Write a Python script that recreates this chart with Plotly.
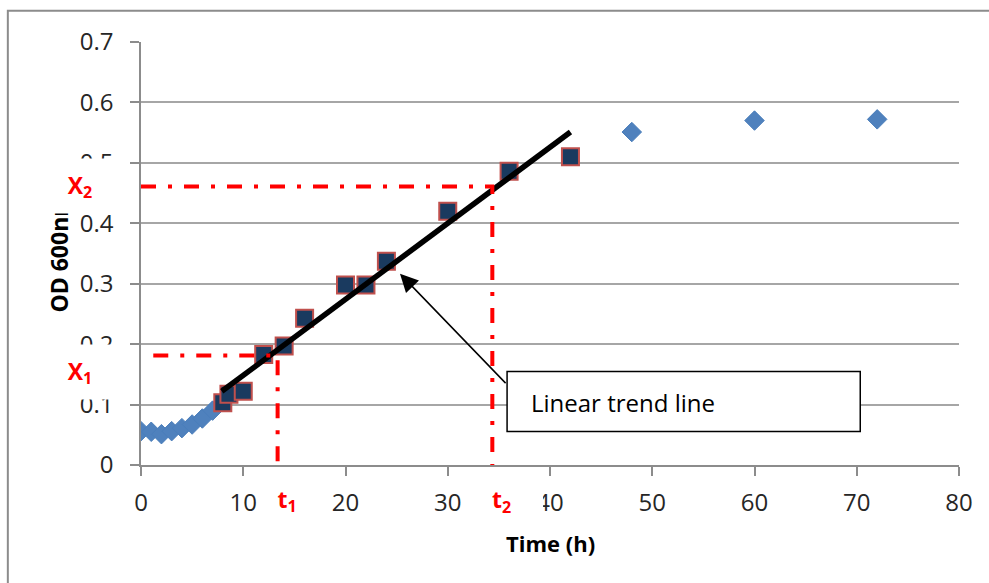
import plotly.graph_objects as go

# ---------------- data ----------------
lag_time = [0, 1, 2, 3, 4, 5, 6, 7]
lag_od = [0.056, 0.055, 0.051, 0.056, 0.061, 0.067, 0.077, 0.090]

exp_time = [8, 8.6, 10, 12, 14, 16, 20, 22, 24, 30, 36, 42]
exp_od = [0.103, 0.117, 0.122, 0.183, 0.197, 0.243, 0.298, 0.298, 0.337, 0.420, 0.486, 0.510]

stat_time = [48, 60, 72]
stat_od = [0.551, 0.570, 0.572]

trend_time = [7.9, 42]
trend_od = [0.122, 0.551]

t1, x1_od, x1_start = 13.36, 0.181, 1.2
t2, x2_od, x2_start = 34.36, 0.461, 0.0

x_ticks = [0, 10, 20, 30, 40, 50, 60, 70, 80]
y_ticks = [0, 0.1, 0.2, 0.3, 0.4, 0.5, 0.6, 0.7]

FONT = "Open Sans"
RED = "#ff0000"
DASH = "15px,12px,4px,12px"

fig = go.Figure()

diamond_style = dict(symbol="diamond", size=15, color="#4f81bd",
                     line=dict(color="#4a7ebb", width=1))
fig.add_trace(go.Scatter(x=lag_time, y=lag_od, mode="markers", marker=diamond_style))
fig.add_trace(go.Scatter(x=stat_time, y=stat_od, mode="markers", marker=diamond_style))
fig.add_trace(go.Scatter(x=exp_time, y=exp_od, mode="markers",
                         marker=dict(symbol="square", size=17, color="#1a3a5f",
                                     line=dict(color="#c0504d", width=2))))
fig.add_trace(go.Scatter(x=trend_time, y=trend_od, mode="lines",
                         line=dict(color="black", width=5.5)))
fig.add_trace(go.Scatter(x=[x2_start, t2, t2], y=[x2_od, x2_od, 0], mode="lines",
                         line=dict(color=RED, width=4, dash=DASH)))
fig.add_trace(go.Scatter(x=[x1_start, t1, t1], y=[x1_od, x1_od, 0], mode="lines",
                         line=dict(color=RED, width=4, dash=DASH)))

PW, PH, L, T = 817.6, 423.5, 141.1, 42.0


def px2paper_x(px):
    return (px - L) / PW


def px2paper_y(py):
    return (T + PH - py) / PH


shapes = [
    # outer chart border
    dict(type="rect", xref="paper", yref="paper",
         x0=px2paper_x(8), x1=1.2, y0=-0.5, y1=px2paper_y(10.7),
         line=dict(color="#8c8c8c", width=2), fillcolor="rgba(0,0,0,0)", layer="below"),
    # white background of the t2 label (hides part of the "40" tick label)
    dict(type="rect", xref="paper", yref="paper",
         x0=px2paper_x(468), x1=px2paper_x(543), y0=px2paper_y(522), y1=px2paper_y(481),
         line=dict(width=0), fillcolor="white", layer="above"),
    # callout box
    dict(type="rect", xref="paper", yref="paper",
         x0=px2paper_x(507), x1=px2paper_x(860), y0=px2paper_y(432), y1=px2paper_y(372),
         line=dict(color="black", width=1.5), fillcolor="white", layer="above"),
]

C = dict(xanchor="center", yanchor="middle", showarrow=False)

annotations = [
    dict(text="<b>OD 600nm</b>", xref="paper", yref="paper",
         x=px2paper_x(59), y=px2paper_y(254), textangle=-90, **C,
         font=dict(family=FONT, size=23, color="black")),
    dict(text="<b>Time (h)</b>", xref="paper", yref="paper",
         x=0.5, y=px2paper_y(544), **C,
         font=dict(family=FONT, size=22, color="black")),
    dict(text="<b>X<sub>2</sub></b>", xref="paper", yref="paper",
         x=px2paper_x(80), y=px2paper_y(186), **C,
         bgcolor="white", width=90, height=52,
         font=dict(family=FONT, size=23, color=RED)),
    dict(text="<b>X<sub>1</sub></b>", xref="paper", yref="paper",
         x=px2paper_x(80), y=px2paper_y(372), **C,
         bgcolor="white", width=90, height=52,
         font=dict(family=FONT, size=23, color=RED)),
    dict(text="<b>t<sub>1</sub></b>", xref="x", yref="paper",
         x=t1, xshift=9, y=px2paper_y(501), **C,
         bgcolor="white", width=56, height=40,
         font=dict(family=FONT, size=23, color=RED)),
    dict(text="<b>t<sub>2</sub></b>", xref="x", yref="paper",
         x=t2, xshift=9, y=px2paper_y(501), **C,
         font=dict(family=FONT, size=23, color=RED)),
    dict(text="", xref="x", yref="y", x=25.33, y=0.3165,
         axref="x", ayref="y", ax=35.8, ay=0.133,
         showarrow=True, arrowhead=2, arrowsize=2.4, arrowwidth=1.5, arrowcolor="black"),
    dict(text="Linear trend line", xref="paper", yref="paper",
         x=px2paper_x(529), y=px2paper_y(403), xanchor="left", yanchor="middle",
         showarrow=False,
         font=dict(family=FONT, size=24, color="black")),
]

fig.update_layout(
    width=989, height=583,
    margin=dict(l=141, r=30, t=42, b=118),
    paper_bgcolor="white", plot_bgcolor="white",
    showlegend=False,
    font=dict(family=FONT, color="#262626"),
    shapes=shapes, annotations=annotations,
    xaxis=dict(range=[0, 80], tickvals=x_ticks, ticktext=[str(v) for v in x_ticks],
               showgrid=False, zeroline=False, showline=True, linecolor="#8c8c8c", linewidth=1.5,
               ticks="outside", ticklen=9, tickcolor="#8c8c8c", tickwidth=1.5,
               tickfont=dict(family=FONT, size=24, color="#262626"), ticklabelstandoff=6),
    yaxis=dict(range=[0, 0.7], tickvals=y_ticks, ticktext=[("%g" % v) for v in y_ticks],
               showgrid=True, gridcolor="#a6a6a6", gridwidth=1.5, zeroline=False,
               showline=True, linecolor="#8c8c8c", linewidth=1.5,
               ticks="outside", ticklen=9, tickcolor="#8c8c8c", tickwidth=1.5,
               tickfont=dict(family=FONT, size=24, color="#262626"), ticklabelstandoff=12),
)

fig.write_html("out.html")
